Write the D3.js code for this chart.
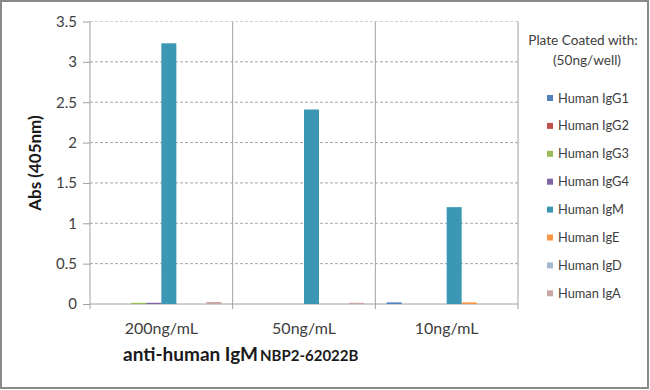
<!DOCTYPE html>
<html>
<head>
<meta charset="utf-8">
<script src="https://cdn.jsdelivr.net/npm/d3@7"></script>
<style>
  body { margin: 0; background: #fff; }
  svg { display: block; font-family: Lato, "Open Sans", sans-serif; }
</style>
</head>
<body>
<svg id="chart" width="650" height="390"></svg>
<script>
var categories = ["200ng/mL", "50ng/mL", "10ng/mL"];
var seriesNames = ["Human IgG1", "Human IgG2", "Human IgG3", "Human IgG4", "Human IgM", "Human IgE", "Human IgD", "Human IgA"];
var seriesColors = ["#4f81bd", "#c0504d", "#9bbb59", "#8064a2", "#3b97b4", "#f79646", "#a5b9d0", "#c9a7a4"];
// rows = series, columns = categories
var valIgG1 = [0, 0, 0.02];
var valIgG2 = [0, 0, 0];
var valIgG3 = [0.015, 0, 0];
var valIgG4 = [0.015, 0, 0];
var valIgM  = [3.23, 2.41, 1.2];
var valIgE  = [0, 0, 0.02];
var valIgD  = [0, 0, 0];
var valIgA  = [0.025, 0.015, 0];
var yTicks = [0, 0.5, 1, 1.5, 2, 2.5, 3, 3.5];

var values = [valIgG1, valIgG2, valIgG3, valIgG4, valIgM, valIgE, valIgD, valIgA];

var svg = d3.select("#chart"),
	pLeft = 90, pRight = 518, pTop = 21.5, pBottom = 304;

// frame
svg.append("rect").attr("x", 1).attr("y", 1).attr("width", 647).attr("height", 387)
	.attr("fill", "#fff").attr("stroke", "#8a8a8a").attr("stroke-width", 2);

var y = d3.scaleLinear().domain([0, 3.5]).range([pBottom, pTop]);
var x0 = d3.scaleBand().domain(categories).range([pLeft, pRight]).padding(0);
var x1 = d3.scaleBand().domain(d3.range(seriesNames.length))
	.range([0, x0.bandwidth()]).paddingOuter(0.75).paddingInner(0);

// gridlines
svg.append("g").selectAll("line").data(yTicks.filter(function(t) { return t > 0; }))
	.enter().append("line")
	.attr("x1", pLeft).attr("x2", pRight)
	.attr("y1", function(d) { return y(d); }).attr("y2", function(d) { return y(d); })
	.attr("stroke", function(d) { return d == 3.5 ? "#cfcfcf" : "#a6a6a6"; })
	.attr("stroke-dasharray", "3,2");

// y axis
var yAxis = svg.append("g").attr("transform", "translate(" + pLeft + ",0)")
	.call(d3.axisLeft(y).tickValues(yTicks).tickSize(7).tickPadding(6)
		.tickFormat(function(d) { return d; }));
yAxis.select(".domain").attr("stroke", "#a0a0a0").attr("d", "M0," + pTop + "V" + (pBottom + 5));
yAxis.selectAll(".tick line").attr("stroke", "#a0a0a0");
yAxis.selectAll(".tick text").attr("fill", "#404040").style("font-size", "15px")
	.style("font-family", "Lato, sans-serif");

// x baseline and group separators
svg.append("line").attr("x1", pLeft).attr("x2", pRight).attr("y1", pBottom).attr("y2", pBottom)
	.attr("stroke", "#a0a0a0");
svg.append("g").selectAll("line").data(categories)
	.enter().append("line")
	.attr("x1", function(d) { return x0(d) + x0.bandwidth(); })
	.attr("x2", function(d) { return x0(d) + x0.bandwidth(); })
	.attr("y1", pTop).attr("y2", pBottom + 5)
	.attr("stroke", "#a0a0a0");

// bars
var groups = svg.append("g").selectAll("g").data(categories)
	.enter().append("g")
	.attr("transform", function(d) { return "translate(" + x0(d) + ",0)"; });
groups.selectAll("rect")
	.data(function(c, ci) { return values.map(function(v, si) { return {s: si, v: v[ci]}; }); })
	.enter().append("rect")
	.attr("x", function(d) { return x1(d.s); })
	.attr("width", x1.bandwidth())
	.attr("y", function(d) { return y(d.v); })
	.attr("height", function(d) { return pBottom - y(d.v); })
	.attr("fill", function(d) { return seriesColors[d.s]; });

// category labels
svg.append("g").selectAll("text").data(categories)
	.enter().append("text")
	.attr("x", function(d) { return x0(d) + x0.bandwidth() / 2; })
	.attr("y", 334)
	.attr("text-anchor", "middle")
	.attr("fill", "#404040")
	.style("font-size", "16px")
	.text(function(d) { return d; });

// axis titles
var xt = svg.append("text").attr("x", 123).attr("y", 361)
	.attr("fill", "#1a1a1a").style("font-weight", "bold");
xt.append("tspan").style("font-size", "19px").text("anti-human IgM");
xt.append("tspan").attr("dx", 2).style("font-size", "15px").text("NBP2-62022B");

svg.append("text")
	.attr("transform", "translate(41,163) rotate(-90)")
	.attr("text-anchor", "middle")
	.attr("fill", "#1a1a1a")
	.style("font-weight", "bold").style("font-size", "17px")
	.text("Abs (405nm)");

// legend
var lg = svg.append("g");
lg.append("text").attr("x", 583).attr("y", 45).attr("text-anchor", "middle")
	.attr("fill", "#404040").style("font-size", "13.6px").text("Plate Coated with:");
lg.append("text").attr("x", 587).attr("y", 65).attr("text-anchor", "middle")
	.attr("fill", "#404040").style("font-size", "13.6px").text("(50ng/well)");
var item = lg.selectAll("g").data(seriesNames)
	.enter().append("g")
	.attr("transform", function(d, i) { return "translate(547," + (98 + i * 27.9) + ")"; });
item.append("rect").attr("x", 0).attr("y", -3).attr("width", 6).attr("height", 6)
	.attr("fill", function(d, i) { return seriesColors[i]; });
item.append("text").attr("x", 11).attr("y", 4.5)
	.attr("fill", "#404040").style("font-size", "12.8px")
	.text(function(d) { return d; });
</script>
</body>
</html>
